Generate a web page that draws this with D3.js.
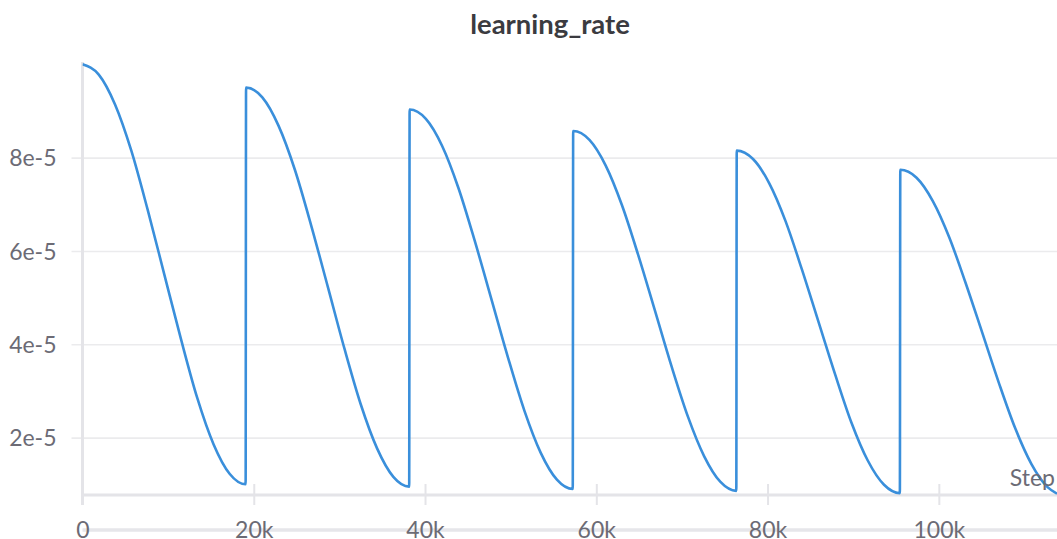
<!DOCTYPE html>
<html><head><meta charset="utf-8">
<script src="https://cdn.jsdelivr.net/npm/d3@7"></script>
<style>
html,body{margin:0;padding:0;background:#fff;}
svg{display:block;}
</style></head>
<body>
<svg id="chart" width="1057" height="539"></svg>
<script>
// data: [step (thousands), learning rate (units of 1e-5)]
const cycle1 = [[0,10.0],[1.9,9.78],[3.8,9.14],[5.7,8.15],[7.6,6.89],[9.55,5.50],[11.5,4.11],[13.4,2.85],[15.3,1.86],[17.2,1.22],[19.05,1.00]];
const cycle2 = [[19.1,9.50],[21.0,9.29],[22.9,8.68],[24.8,7.74],[26.7,6.55],[28.65,5.23],[30.6,3.90],[32.5,2.71],[34.4,1.77],[36.3,1.16],[38.15,0.95]];
const cycle3 = [[38.2,9.03],[40.1,8.83],[42.0,8.25],[43.9,7.35],[45.8,6.22],[47.75,4.97],[49.7,3.71],[51.6,2.58],[53.5,1.68],[55.4,1.10],[57.25,0.90]];
const cycle4 = [[57.3,8.57],[59.2,8.38],[61.1,7.83],[63.0,6.98],[64.9,5.91],[66.85,4.72],[68.8,3.52],[70.7,2.45],[72.6,1.60],[74.5,1.05],[76.35,0.86]];
const cycle5 = [[76.4,8.15],[78.3,7.97],[80.2,7.45],[82.1,6.64],[84.0,5.61],[85.95,4.48],[87.9,3.35],[89.8,2.32],[91.7,1.51],[93.6,0.99],[95.45,0.81]];
const cycle6 = [[95.5,7.74],[97.4,7.57],[99.3,7.07],[101.2,6.30],[103.1,5.33],[105.05,4.26],[107.0,3.18],[108.9,2.21],[110.8,1.44],[112.7,0.94],[113.8,0.80]];

const xTickValues = [0, 20000, 40000, 60000, 80000, 100000];
const xTickLabels = ["0", "20k", "40k", "60k", "80k", "100k"];
const yTickValues = [2e-5, 4e-5, 6e-5, 8e-5];
const yTickLabels = ["2e-5", "4e-5", "6e-5", "8e-5"];
const chartTitle = "learning_rate";
const xAxisTitle = "Step";

(function () {
const points = [cycle1, cycle2, cycle3, cycle4, cycle5, cycle6]
  .flat().map(([s, v]) => ({step: s * 1000, lr: v * 1e-5}));

const W = 1057, H = 539;
const mLeft = 82.5, mRight = 1057, mTop = 64.3, mBottom = 495;
const svg = d3.select("#chart");
const font = "Lato, 'Noto Sans', sans-serif";
const labelColor = "#6c6b75";

const x = d3.scaleLinear().domain([0, 113800]).range([mLeft, mRight]);
const y = d3.scaleLinear().domain([0.771e-5, 1e-4]).range([mBottom, mTop]);

// title
svg.append("text").attr("x", 550).attr("y", 33.5).attr("text-anchor", "middle")
  .attr("font-family", font).attr("font-weight", 700).attr("font-size", 27.5)
  .attr("fill", "#3b3b40").text(chartTitle);

// gridlines + y ticks
const yAxis = d3.axisLeft(y).tickValues(yTickValues).tickSize(0)
  .tickPadding(26).tickFormat((d, i) => yTickLabels[i]);
const gy = svg.append("g").attr("transform", `translate(${mLeft},0)`).call(yAxis);
gy.select(".domain").remove();
gy.selectAll(".tick line").attr("x1", -11).attr("x2", mRight - mLeft)
  .attr("stroke", "#ebebed").attr("stroke-width", 1.6);
gy.selectAll(".tick text").attr("font-family", font).attr("font-size", 23)
  .attr("dy", "0.35em").attr("fill", labelColor);

// vertical axis line
svg.append("line").attr("x1", mLeft).attr("x2", mLeft).attr("y1", 62).attr("y2", 505)
  .attr("stroke", "#e4e4e8").attr("stroke-width", 3);

// bottom bar behind tick labels
svg.append("line").attr("x1", mLeft).attr("x2", mRight).attr("y1", 530).attr("y2", 530)
  .attr("stroke", "#e6e6ea").attr("stroke-width", 3.5);

// x axis
const xAxis = d3.axisBottom(x).tickValues(xTickValues).tickSize(0)
  .tickFormat((d, i) => xTickLabels[i]);
const gx = svg.append("g").attr("transform", `translate(0,${mBottom})`).call(xAxis);
gx.select(".domain").remove();
gx.selectAll(".tick text").attr("y", 42.5).attr("dy", 0)
  .attr("font-family", font).attr("font-size", 23).attr("fill", labelColor);
gx.selectAll(".tick line").attr("y1", -11).attr("y2", 10)
  .attr("stroke", "#e4e4e8").attr("stroke-width", 2);
svg.append("line").attr("x1", mLeft).attr("x2", mRight).attr("y1", mBottom).attr("y2", mBottom)
  .attr("stroke", "#e4e4e8").attr("stroke-width", 3);

// line
svg.append("clipPath").attr("id", "clip").append("rect")
  .attr("x", mLeft).attr("y", 0).attr("width", mRight - mLeft).attr("height", H);
const line = d3.line().x(d => x(d.step)).y(d => y(d.lr)).curve(d3.curveMonotoneX);
svg.append("path").datum(points).attr("d", line).attr("clip-path", "url(#clip)")
  .attr("fill", "none").attr("stroke", "#3a8fdb").attr("stroke-width", 2.6)
  .attr("stroke-linejoin", "round");

// axis title
svg.append("text").attr("x", 1055).attr("y", 486).attr("text-anchor", "end")
  .attr("font-family", font).attr("font-size", 23).attr("fill", labelColor).text(xAxisTitle);
})();
</script>
</body></html>
